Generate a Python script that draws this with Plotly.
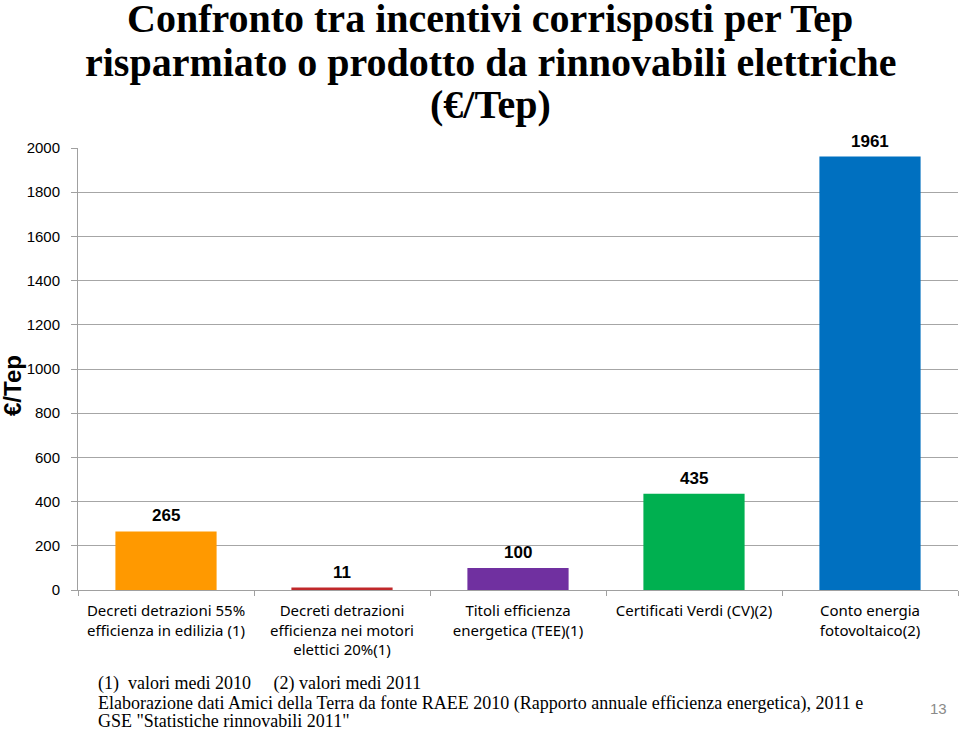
import plotly.graph_objects as go

categories = [
    "Decreti detrazioni 55%<br>efficienza in edilizia (1)",
    "Decreti detrazioni<br>efficienza nei motori<br>elettici 20%(1)",
    "Titoli efficienza<br>energetica (TEE)(1)",
    "Certificati Verdi (CV)(2)",
    "Conto energia<br>fotovoltaico(2)",
]
values = [265, 11, 100, 435, 1961]
colors = ["#FF9900", "#C0282A", "#7030A0", "#00B050", "#0070C0"]
y_ticks = [0, 200, 400, 600, 800, 1000, 1200, 1400, 1600, 1800, 2000]
title_lines = [
    "Confronto tra incentivi corrisposti per Tep",
    "risparmiato o prodotto da rinnovabili elettriche",
    "(€/Tep)",
]

W, H = 960, 730
L, R, T, B = 78, 2, 148, 140
pw, ph = W - L - R, H - T - B

def px(x):
    return (x - L) / pw

def py(y):
    return (H - B - y) / ph

fig = go.Figure()
fig.add_trace(go.Bar(
    x=categories, y=values, marker=dict(color=colors, line=dict(width=0)),
    width=0.575, cliponaxis=False, showlegend=False,
))

annotations = []
for c, v in zip(categories, values):
    annotations.append(dict(x=c, y=v, xref="x", yref="y", text="<b>%d</b>" % v, showarrow=False,
                            yanchor="bottom", yshift=4,
                            font=dict(family="Liberation Sans", size=17, color="#000000")))

for line, yc in zip(title_lines, [19, 62, 105]):
    annotations.append(dict(x=px(490), y=py(yc), xref="paper", yref="paper",
                            text="<b>%s</b>" % line, showarrow=False,
                            xanchor="center", yanchor="middle",
                            font=dict(family="Liberation Serif", size=40, color="#000000")))

annotations.append(dict(x=px(12), y=py(386), xref="paper", yref="paper", text="<b>€/Tep</b>",
                        textangle=-90, showarrow=False, xanchor="center", yanchor="middle",
                        font=dict(family="Liberation Sans", size=24, color="#000000")))
serif = "Liberation Serif"
foot = [
    ("(1)  valori medi 2010     (2) valori medi 2011", 683),
    ("Elaborazione dati Amici della Terra da fonte RAEE 2010 (Rapporto annuale efficienza energetica), 2011 e", 703),
    ("GSE \"Statistiche rinnovabili 2011\"", 721),
]
for txt, yc in foot:
    annotations.append(dict(x=px(96), y=py(yc), xref="paper", yref="paper", text=txt,
                            showarrow=False, xanchor="left", yanchor="middle",
                            font=dict(family=serif, size=18, color="#000000")))
annotations.append(dict(x=px(938), y=py(708), xref="paper", yref="paper", text="13",
                        showarrow=False, xanchor="center", yanchor="middle",
                        font=dict(family="Liberation Sans", size=15, color="#8A8A8A")))

fig.update_layout(
    width=W, height=H,
    margin=dict(l=L, r=R, t=T, b=B, autoexpand=False),
    paper_bgcolor="white", plot_bgcolor="white",
    bargap=0.425,
    annotations=annotations,
    xaxis=dict(
        type="category", showline=True, linecolor="#A0A0A0", linewidth=1,
        ticks="outside", tickson="boundaries", ticklen=5, tickcolor="#A0A0A0",
        ticklabelstandoff=7,
        tickfont=dict(family="Noto Sans", size=15, color="#000000"),
        showgrid=False,
    ),
    yaxis=dict(
        range=[0, 2000], tickvals=y_ticks, showgrid=True, gridcolor="#A6A6A6", gridwidth=1,
        showline=True, linecolor="#A0A0A0", linewidth=1,
        ticks="outside", ticklen=6, tickcolor="#A0A0A0", ticklabelstandoff=8,
        tickfont=dict(family="Liberation Sans", size=15, color="#000000"),
        zeroline=False,
    ),
)

fig.write_html("out.html", config={"displayModeBar": False},
               post_script="document.body.style.margin='0';document.body.style.overflow='hidden';")
